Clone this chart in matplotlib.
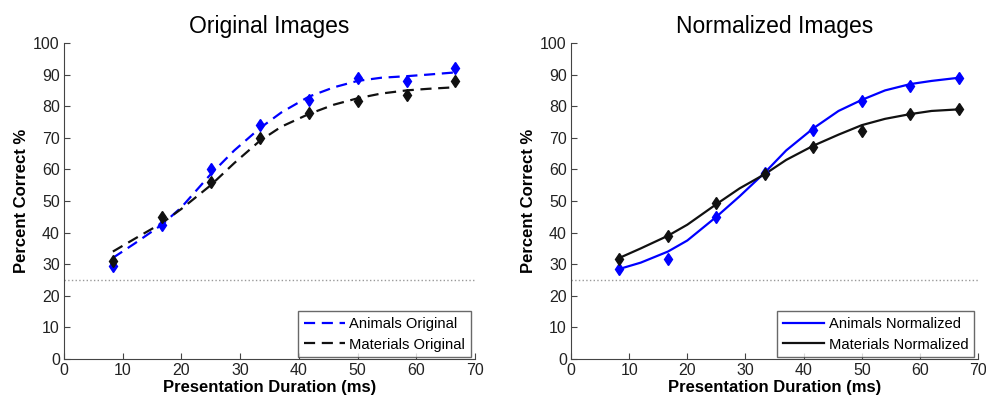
#!/usr/bin/env python3
# recognition accuracy vs presentation duration, original and normalized images

import matplotlib
matplotlib.use("Agg")
import matplotlib.pyplot as plt
import numpy as np

plt.rcParams['font.family'] = ['Liberation Sans', 'DejaVu Sans']

# data points (ms, percent correct)
durations = np.array([8.33, 16.67, 25.0, 33.33, 41.67, 50.0, 58.33, 66.67])
animals_orig = np.array([29.5, 42.5, 60.0, 74.0, 82.0, 89.0, 88.0, 92.0])
materials_orig = np.array([31.0, 45.0, 56.0, 70.0, 78.0, 81.5, 83.5, 88.0])
animals_norm = np.array([28.5, 31.5, 45.0, 59.0, 72.5, 81.5, 86.5, 89.0])
materials_norm = np.array([31.5, 39.0, 49.5, 58.5, 67.0, 72.0, 77.5, 79.0])

# fitted curves
fit_x = np.array([8.33, 12, 16.67, 20, 25, 29, 33.33, 37, 41.67, 46, 50, 54, 58.33, 62, 66.67])
animals_orig_fit = np.array([32, 36.5, 42.5, 48, 58.5, 66, 73, 78, 83, 86, 88, 89, 89.5, 90, 90.7])
materials_orig_fit = np.array([34, 38, 43, 47.5, 55, 62, 69, 73.5, 77.5, 80.5, 82.5, 84, 85, 85.5, 86])
animals_norm_fit = np.array([28.5, 30.5, 34, 37.5, 45, 51.5, 59, 66, 73, 78.5, 82, 85, 87, 88, 89])
materials_norm_fit = np.array([32, 35, 39, 42.5, 49, 54, 58.5, 63, 67.5, 71, 74, 76, 77.5, 78.5, 79])

chance = 25
axis_grey = "#444444"


def style_axes(ax, title):
    ax.set_xlim(0, 70)
    ax.set_ylim(0, 100)
    ax.set_xticks(np.arange(0, 71, 10))
    ax.set_yticks(np.arange(0, 101, 10))
    for side in ["top", "right"]:
        ax.spines[side].set_visible(False)
    for side in ["left", "bottom"]:
        ax.spines[side].set_color(axis_grey)
    ax.tick_params(direction="in", length=4, colors=axis_grey, labelcolor="#222222", labelsize=11.5, pad=3)
    ax.set_title(title, fontsize=16.5, pad=7)
    ax.set_xlabel("Presentation Duration (ms)", fontsize=12, fontweight="bold", labelpad=1)
    ax.set_ylabel("Percent Correct %", fontsize=12, fontweight="bold", labelpad=3)
    ax.axhline(chance, color="#999999", linestyle=":", linewidth=1)


def main():
    fig = plt.figure(figsize=(9.87, 4.0), dpi=100, facecolor="white")
    ax1 = fig.add_axes([0.0648, 0.1025, 0.4165, 0.79])
    ax2 = fig.add_axes([0.5785, 0.1025, 0.4125, 0.79])

    # left panel: dashed fits
    ax1.plot(fit_x, animals_orig_fit, color="#0000ff", linestyle=(0, (5, 3)), linewidth=1.6, label="Animals Original")
    ax1.plot(fit_x, materials_orig_fit, color="#111111", linestyle=(0, (5, 3)), linewidth=1.6, label="Materials Original")
    ax1.plot(durations, animals_orig, linestyle="None", marker="d", markersize=6, color="#0000ff")
    ax1.plot(durations, materials_orig, linestyle="None", marker="d", markersize=6, color="#111111")
    style_axes(ax1, "Original Images")

    # right panel: solid fits
    ax2.plot(fit_x, animals_norm_fit, color="#0000ff", linewidth=1.6, label="Animals Normalized")
    ax2.plot(fit_x, materials_norm_fit, color="#111111", linewidth=1.6, label="Materials Normalized")
    ax2.plot(durations, animals_norm, linestyle="None", marker="d", markersize=6, color="#0000ff")
    ax2.plot(durations, materials_norm, linestyle="None", marker="d", markersize=6, color="#111111")
    style_axes(ax2, "Normalized Images")

    for ax in (ax1, ax2):
        leg = ax.legend(loc="lower right", bbox_to_anchor=(0.99, 0.005), fontsize=10.6, frameon=True,
                        fancybox=False, handlelength=2.8, handletextpad=0.3, borderpad=0.4,
                        labelspacing=0.45, borderaxespad=0)
        leg.get_frame().set_edgecolor(axis_grey)
        leg.get_frame().set_linewidth(1)

    fig.savefig("out.png", dpi=100, facecolor="white")


if __name__ == "__main__":
    main()
